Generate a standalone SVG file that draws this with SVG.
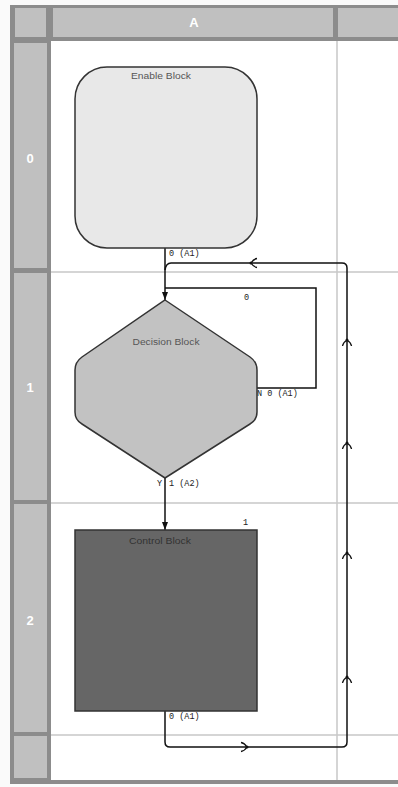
<svg xmlns="http://www.w3.org/2000/svg" width="398" height="787" viewBox="0 0 398 787">
  <style>
    .hdr { fill: #c0c0c0; }
    .hdrtxt { font-family: "Liberation Sans", Arial, sans-serif; font-size: 13px; font-weight: bold; fill: #ffffff; text-anchor: middle; }
    .grid { stroke: #c8c8c8; stroke-width: 1.5; fill: none; }
    .node { stroke: #333333; stroke-width: 1.5; }
    .ntxt { font-family: "Liberation Sans", Arial, sans-serif; font-size: 8.5px; text-anchor: middle; }
    .edge { stroke: #111111; stroke-width: 1.5; fill: none; }
    .lbl { font-family: "Liberation Mono", "Courier New", monospace; font-size: 8.5px; fill: #222222; }
    .chev { stroke: #111111; stroke-width: 1.3; fill: none; }
  </style>
  <defs>
    <marker id="tri" markerWidth="8" markerHeight="6" refX="8" refY="3" orient="auto" markerUnits="userSpaceOnUse">
      <path d="M0,0 L8,3 L0,6 Z" fill="#111111"/>
    </marker>
    <g id="chevron">
      <path class="chev" d="M-4.5,6 Q-4,2.5 0,0 Q4,2.5 4.5,6"/>
      <circle cx="0" cy="0" r="1.5" fill="#111111"/>
    </g>
  </defs>

  <!-- page background -->
  <rect x="0" y="0" width="398" height="787" fill="#fafafa"/>

  <!-- spreadsheet-style frame -->
  <g id="frame">
    <rect x="10" y="5" width="388" height="779" fill="#8c8c8c"/>
    <rect x="51" y="41" width="347" height="739" fill="#ffffff"/>
    <!-- column headers -->
    <rect class="hdr" x="15" y="8" width="31" height="29"/>
    <rect class="hdr" x="53" y="8" width="280" height="29"/>
    <rect class="hdr" x="338" y="8" width="60" height="29"/>
    <text class="hdrtxt" x="194" y="27">A</text>
    <!-- row headers -->
    <rect class="hdr" x="14" y="43" width="33" height="225"/>
    <rect class="hdr" x="14" y="273" width="33" height="227"/>
    <rect class="hdr" x="14" y="504" width="33" height="228"/>
    <rect class="hdr" x="14" y="736" width="33" height="42"/>
    <text class="hdrtxt" x="30" y="163">0</text>
    <text class="hdrtxt" x="30" y="392">1</text>
    <text class="hdrtxt" x="30" y="625">2</text>
    <!-- cell grid lines -->
    <path class="grid" d="M51,272 H398 M51,503 H398 M51,735 H398 M337,41 V780"/>
  </g>

  <!-- connectors -->
  <g id="connectors">
    <!-- Enable Block -> Decision Block -->
    <path class="edge" d="M165,248 V300" marker-end="url(#tri)"/>
    <!-- Decision Block N branch loops back to its own input -->
    <path class="edge" d="M257,388 H316 V288 H165"/>
    <!-- Decision Block Y branch -> Control Block -->
    <path class="edge" d="M165,478 V530" marker-end="url(#tri)"/>
    <!-- Control Block feedback loop -->
    <path class="edge" d="M165,711 V742 Q165,747 170,747 H342 Q347,747 347,742 V268 Q347,263 342,263 H171 Q166,263 165,270"/>
    <use href="#chevron" transform="translate(347,340)"/>
    <use href="#chevron" transform="translate(347,443)"/>
    <use href="#chevron" transform="translate(347,553)"/>
    <use href="#chevron" transform="translate(347,677)"/>
    <use href="#chevron" transform="translate(247,747) rotate(90)"/>
    <use href="#chevron" transform="translate(251,263) rotate(-90)"/>

    <!-- port labels -->
    <text class="lbl" x="169" y="256">0  (A1)</text>
    <text class="lbl" x="244" y="300">0</text>
    <text class="lbl" x="257" y="396">N 0  (A1)</text>
    <text class="lbl" x="157" y="486">Y</text>
    <text class="lbl" x="169" y="486">1  (A2)</text>
    <text class="lbl" x="243" y="525">1</text>
    <text class="lbl" x="169" y="719">0  (A1)</text>
  </g>

  <!-- nodes -->
  <g id="enable-block">
    <rect class="node" x="75" y="67" width="182" height="181" rx="32" ry="32" fill="#e8e8e8"/>
    <text class="ntxt" x="161" y="79" fill="#555555" textLength="60" lengthAdjust="spacingAndGlyphs">Enable Block</text>
  </g>

  <g id="decision-block">
    <path class="node" fill="#c2c2c2" d="M165,300 L250,357 Q257,362 257,370 L257,412 Q257,420 250,424 L165,478 L82,424 Q75,420 75,412 L75,370 Q75,362 82,357 Z"/>
    <text class="ntxt" x="166" y="345" fill="#555555" textLength="67" lengthAdjust="spacingAndGlyphs">Decision Block</text>
  </g>

  <g id="control-block">
    <rect class="node" x="75" y="530" width="182" height="181" fill="#666666"/>
    <text class="ntxt" x="160" y="544" fill="#333333" textLength="62" lengthAdjust="spacingAndGlyphs">Control Block</text>
  </g>
</svg>
